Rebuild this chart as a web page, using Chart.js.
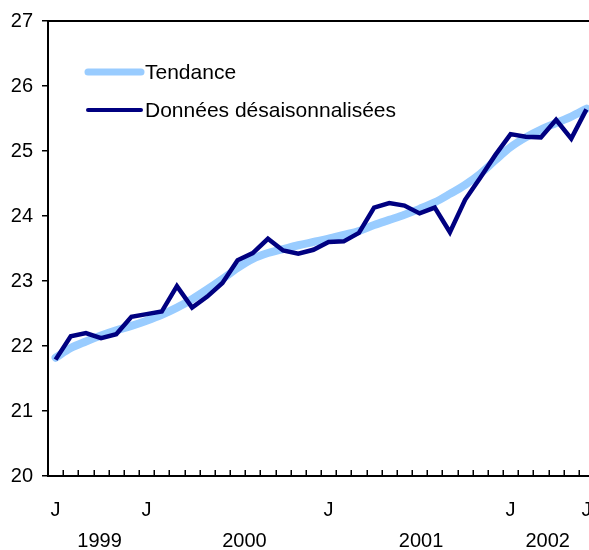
<!DOCTYPE html>
<html>
<head>
<meta charset="utf-8">
<script src="https://cdn.jsdelivr.net/npm/chart.js@4"></script>
<style>
  html, body { margin: 0; padding: 0; background: #fff; overflow: hidden; }
  #wrap { width: 600px; height: 550px; }
</style>
</head>
<body>
<div id="wrap"><canvas id="chart" width="600" height="550"></canvas></div>
<script>
// ----- Data -----
const months = [
  "1999-07", "1999-08", "1999-09", "1999-10", "1999-11", "1999-12",
  "2000-01", "2000-02", "2000-03", "2000-04", "2000-05", "2000-06",
  "2000-07", "2000-08", "2000-09", "2000-10", "2000-11", "2000-12",
  "2001-01", "2001-02", "2001-03", "2001-04", "2001-05", "2001-06",
  "2001-07", "2001-08", "2001-09", "2001-10", "2001-11", "2001-12",
  "2002-01", "2002-02", "2002-03", "2002-04", "2002-05", "2002-06"
];

const tickLabels = [
  "J", "", "", "", "", "",
  "J", "", "", "", "", "",
  "", "", "", "", "", "",
  "J", "", "", "", "", "",
  "", "", "", "", "", "",
  "J", "", "", "", "", "J"
];

const yearLabels = ["1999", "2000", "2001", "2002"];
const yearPositions = [2.9, 12.45, 24.1, 32.45]; // in month index units

const seasonallyAdjusted = [
  21.79, 22.15, 22.20, 22.12, 22.18, 22.45,
  22.49, 22.53, 22.92, 22.59, 22.76, 22.97,
  23.32, 23.43, 23.65, 23.47, 23.42, 23.48,
  23.60, 23.61, 23.74, 24.13, 24.20, 24.16,
  24.04, 24.13, 23.75, 24.25, 24.59, 24.94,
  25.26, 25.22, 25.21, 25.48, 25.19, 25.64
];

const trend = [
  21.82, 21.97, 22.07, 22.16, 22.24, 22.31,
  22.39, 22.48, 22.59, 22.72, 22.87, 23.03,
  23.20, 23.34, 23.43, 23.49, 23.55, 23.60,
  23.65, 23.71, 23.77, 23.86, 23.94, 24.02,
  24.11, 24.21, 24.34, 24.48, 24.65, 24.86,
  25.06, 25.21, 25.33, 25.43, 25.53, 25.65
];

const FONT = "'Liberation Sans', Arial, sans-serif";
const DARK = "#000080";
const LIGHT = "#99ccff";

// ----- Extra drawing: top frame line, inner month ticks, years, legend -----
const decorations = {
  id: "decorations",
  afterDraw(chart) {
    const ctx = chart.ctx;
    const area = chart.chartArea;
    const x = chart.scales.x;

    ctx.save();
    ctx.strokeStyle = "#000";

    // top frame line
    ctx.lineWidth = 2;
    ctx.beginPath();
    ctx.moveTo(area.left - 1, area.top);
    ctx.lineTo(chart.width, area.top);
    ctx.stroke();

    // month boundary ticks pointing up
    const half = (x.getPixelForValue(1) - x.getPixelForValue(0)) / 2;
    ctx.lineWidth = 1.5;
    ctx.beginPath();
    for (let i = 1; i <= months.length; i++) {
      const px = Math.round(x.getPixelForValue(i) - half) + 0.25;
      ctx.moveTo(px, area.bottom);
      ctx.lineTo(px, area.bottom - 6);
    }
    ctx.stroke();

    // year labels
    ctx.fillStyle = "#000";
    ctx.font = "20px " + FONT;
    ctx.textAlign = "center";
    ctx.textBaseline = "middle";
    yearLabels.forEach((label, i) => {
      ctx.fillText(label, x.getPixelForValue(yearPositions[i]), 541);
    });

    // legend
    ctx.lineCap = "round";
    ctx.strokeStyle = LIGHT;
    ctx.lineWidth = 7;
    ctx.beginPath();
    ctx.moveTo(88, 72);
    ctx.lineTo(141, 72);
    ctx.stroke();

    ctx.strokeStyle = DARK;
    ctx.lineWidth = 4;
    ctx.beginPath();
    ctx.moveTo(88, 110);
    ctx.lineTo(141, 110);
    ctx.stroke();

    ctx.font = "21px " + FONT;
    ctx.textAlign = "left";
    ctx.fillText("Tendance", 145, 73);
    ctx.fillText("Données désaisonnalisées", 145, 111);
    ctx.restore();
  }
};

new Chart(document.getElementById("chart"), {
  type: "line",
  data: {
    labels: months,
    datasets: [
      {
        label: "Données désaisonnalisées",
        data: seasonallyAdjusted,
        borderColor: DARK,
        borderWidth: 4.5,
        pointRadius: 0,
        tension: 0,
        borderJoinStyle: "miter",
        order: 1
      },
      {
        label: "Tendance",
        data: trend,
        borderColor: LIGHT,
        borderWidth: 8,
        pointRadius: 0,
        cubicInterpolationMode: "monotone",
        borderJoinStyle: "round",
        borderCapStyle: "round",
        order: 2
      }
    ]
  },
  options: {
    responsive: false,
    animation: false,
    devicePixelRatio: 1,
    layout: { padding: { top: 18, right: 6, left: 0, bottom: 0 } },
    plugins: {
      legend: { display: false },
      tooltip: { enabled: false }
    },
    scales: {
      x: {
        offset: true,
        grid: { display: false, drawTicks: false },
        border: { display: true, color: "#000", width: 2 },
        ticks: {
          autoSkip: false,
          maxRotation: 0,
          padding: 22,
          color: "#000",
          font: { family: FONT, size: 20 },
          callback: (value, index) => tickLabels[index]
        },
        afterFit: scale => {
          scale.height = 74;
          scale.paddingLeft = 0;
          scale.paddingRight = 0;
        }
      },
      y: {
        min: 20,
        max: 27,
        grid: { drawOnChartArea: false, color: "#000", tickLength: 6, lineWidth: 1.5 },
        border: { display: true, color: "#000", width: 2 },
        ticks: {
          stepSize: 1,
          padding: 9,
          color: "#000",
          font: { family: FONT, size: 20 }
        },
        afterFit: scale => { scale.width = 48; }
      }
    }
  },
  plugins: [decorations]
});
</script>
</body>
</html>
